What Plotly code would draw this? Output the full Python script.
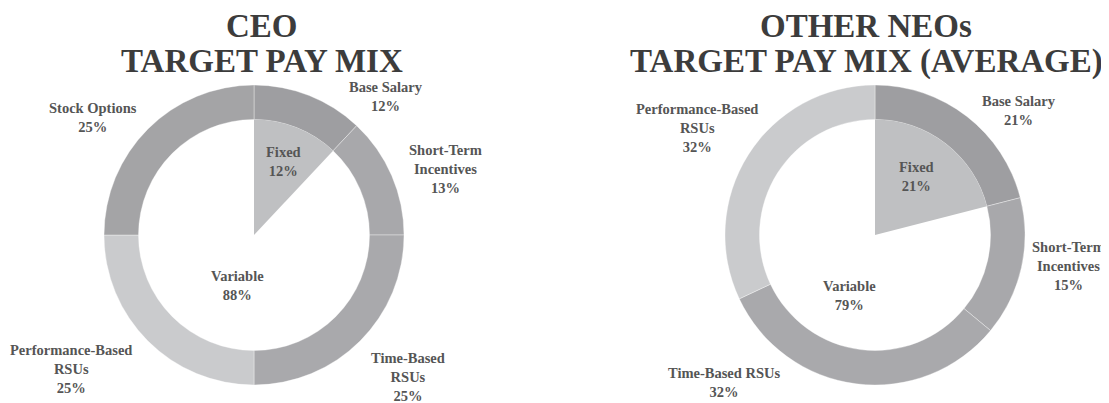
import plotly.graph_objects as go

# page body has an 8px margin; figure occupies the rest of the window
OX, OY = 8, 8
W, H = 1109 - OX, 403 - OY

# ---- data ----
ceo_labels = ["Base Salary", "Short-Term<br>Incentives", "Time-Based<br>RSUs", "Performance-Based<br>RSUs", "Stock Options"]
ceo_values = [12, 13, 25, 25, 25]
ceo_inner_labels = ["Fixed", "Variable"]
ceo_inner_values = [12, 88]

neo_labels = ["Base Salary", "Short-Term<br>Incentives", "Time-Based RSUs", "Performance-Based<br>RSUs"]
neo_values = [21, 15, 32, 32]
neo_inner_labels = ["Fixed", "Variable"]
neo_inner_values = [21, 79]

title_lines = [["CEO", "TARGET PAY MIX"], ["OTHER NEOs", "TARGET PAY MIX (AVERAGE)"]]

# ---- styles ----
ceo_colors = ["#9e9ea1", "#a8a8ab", "#a9a9ac", "#cacbcd", "#a4a4a6"]
neo_colors = ["#9e9ea1", "#a8a8ab", "#a9a9ac", "#cacbcd"]
inner_colors = ["#bfc0c2", "rgba(0,0,0,0)"]
FONT = "Liberation Serif"
LABEL_COLOR = "#555555"
TITLE_COLOR = "#3c3c3c"

R_OUT = 150
HOLE = 0.77
R_IN = R_OUT * HOLE


def px(x):
    return (x - OX) / W


def py(y):
    return 1 - (y - OY) / H


def dom(cx, cy, r):
    return dict(x=[px(cx - r), px(cx + r)], y=[py(cy + r), py(cy - r)])


fig = go.Figure()

charts = [
    (254, 235, ceo_labels, ceo_values, ceo_colors, ceo_inner_labels, ceo_inner_values),
    (875, 235, neo_labels, neo_values, neo_colors, neo_inner_labels, neo_inner_values),
]

for cx, cy, labs, vals, cols, ilabs, ivals in charts:
    fig.add_trace(go.Pie(
        labels=labs, values=vals, hole=HOLE, sort=False, direction="clockwise",
        rotation=0, textinfo="none", hoverinfo="label+percent",
        marker=dict(colors=cols, line=dict(color="rgba(255,255,255,0.6)", width=0.6)),
        domain=dom(cx, cy, R_OUT), showlegend=False,
    ))
    fig.add_trace(go.Pie(
        labels=ilabs, values=ivals, sort=False, direction="clockwise",
        rotation=0, textinfo="none", hoverinfo="label+percent",
        marker=dict(colors=inner_colors, line=dict(width=0)),
        domain=dom(cx, cy, R_IN), showlegend=False,
    ))

# label positions (pixel coordinates of text centres in the window)
ceo_pos = [(386, 97), (445, 169), (408, 377), (71, 369), (93, 118)]
ceo_inner_pos = [(283, 161), (237, 285)]
neo_pos = [(1019, 110), (1068, 266), (724, 382), (697, 128)]
neo_inner_pos = [(916, 176), (849, 295)]

annots = []


def add_label(text, x, y, size=14.5, color=LABEL_COLOR):
    annots.append(dict(
        text=text, x=px(x), y=py(y), xref="paper", yref="paper",
        xanchor="center", yanchor="middle", showarrow=False, align="center",
        font=dict(family=FONT, size=size, color=color, weight="bold"),
    ))


for labs, vals, pos in [(ceo_labels, ceo_values, ceo_pos), (neo_labels, neo_values, neo_pos),
                        (ceo_inner_labels, ceo_inner_values, ceo_inner_pos),
                        (neo_inner_labels, neo_inner_values, neo_inner_pos)]:
    for l, v, (x, y) in zip(labs, vals, pos):
        add_label(f"{l}<br>{v}%", x, y)

for lines, cx in zip(title_lines, [262, 866]):
    add_label(lines[0], cx, 26, size=33, color=TITLE_COLOR)
    add_label(lines[1], cx, 61, size=33, color=TITLE_COLOR)

fig.update_layout(
    width=W, height=H, margin=dict(l=0, r=0, t=0, b=0),
    paper_bgcolor="white", plot_bgcolor="white",
    annotations=annots,
)

fig.write_html("out.html")
